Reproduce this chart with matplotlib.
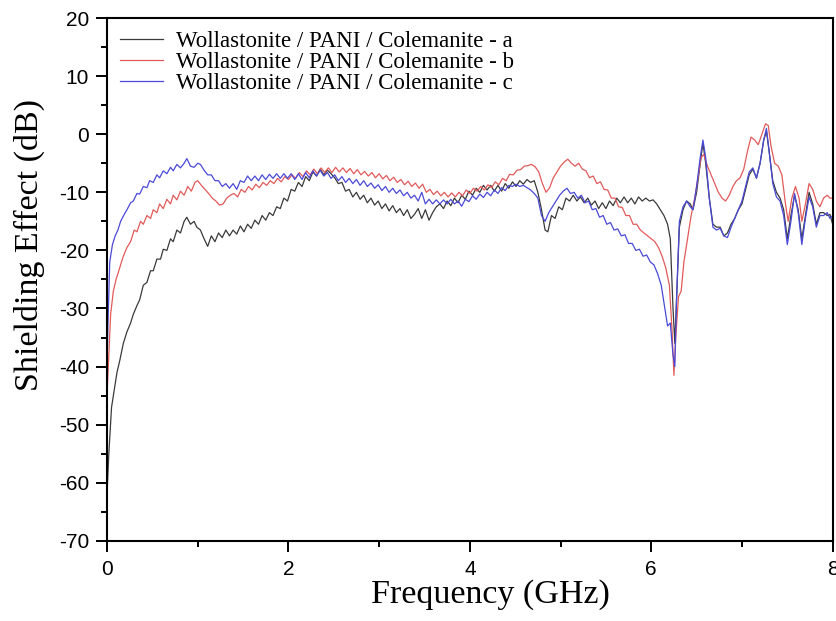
import matplotlib
matplotlib.use('Agg')
import matplotlib.pyplot as plt
from matplotlib.ticker import MultipleLocator

plt.rcParams['axes.unicode_minus'] = False

# sample a
freq_a = [0.0, 0.02, 0.05, 0.08, 0.11, 0.14, 0.18, 0.22, 0.26, 0.29, 0.33, 0.36, 0.40, 0.44, 0.48, 0.51,
          0.55, 0.59, 0.62, 0.66, 0.70, 0.73, 0.77, 0.81, 0.85, 0.88, 0.92, 0.96, 0.99, 1.03, 1.07, 1.11,
          1.15, 1.19, 1.23, 1.27, 1.31, 1.35, 1.39, 1.43, 1.47, 1.51, 1.55, 1.59, 1.63, 1.67, 1.71, 1.75,
          1.79, 1.83, 1.87, 1.91, 1.95, 1.99, 2.03, 2.07, 2.11, 2.15, 2.19, 2.23, 2.27, 2.31, 2.35, 2.39,
          2.43, 2.47, 2.51, 2.55, 2.59, 2.63, 2.67, 2.71, 2.75, 2.79, 2.83, 2.87, 2.91, 2.95, 2.99, 3.03,
          3.07, 3.11, 3.15, 3.19, 3.23, 3.27, 3.31, 3.35, 3.39, 3.43, 3.47, 3.51, 3.55, 3.59, 3.63, 3.67,
          3.71, 3.75, 3.79, 3.83, 3.87, 3.91, 3.95, 3.99, 4.03, 4.07, 4.11, 4.15, 4.19, 4.23, 4.27, 4.31,
          4.35, 4.39, 4.43, 4.47, 4.51, 4.55, 4.59, 4.63, 4.67, 4.71, 4.75, 4.79, 4.83, 4.86, 4.90, 4.94,
          4.98, 5.02, 5.06, 5.10, 5.14, 5.18, 5.22, 5.26, 5.30, 5.34, 5.38, 5.42, 5.46, 5.50, 5.54, 5.58,
          5.62, 5.66, 5.70, 5.74, 5.78, 5.82, 5.86, 5.90, 5.94, 5.98, 6.02, 6.06, 6.10, 6.14, 6.18, 6.21,
          6.24, 6.26, 6.28, 6.31, 6.35, 6.39, 6.43, 6.46, 6.50, 6.54, 6.57, 6.60, 6.64, 6.68, 6.72, 6.76,
          6.80, 6.84, 6.88, 6.92, 6.96, 7.00, 7.04, 7.08, 7.12, 7.16, 7.20, 7.24, 7.27, 7.30, 7.34, 7.38,
          7.42, 7.46, 7.50, 7.54, 7.58, 7.62, 7.66, 7.70, 7.74, 7.78, 7.82, 7.86, 7.90, 7.94, 7.97, 8.0]
se_a = [-62, -55, -47, -44, -41, -39, -36, -34, -32.5, -31, -29.5, -28.5, -26, -25.5, -23.5, -23.5,
        -21.5, -21.5, -19.8, -20, -18, -18.5, -16.5, -17, -15, -14.3, -15.5, -15, -16, -16.5, -18, -19.3,
        -17.5, -18.5, -17, -17.8, -16.5, -17.5, -16.5, -17.2, -15.8, -16.8, -15.5, -16.2, -14.8, -15.5, -14, -14.8,
        -13.5, -14, -12.5, -12.8, -11, -11.5, -9.5, -9.8, -8.3, -9, -7.3, -8, -6.5, -7.2, -6, -7,
        -6.2, -6.8, -7.5, -8.5, -8.3, -9.8, -9.5, -10.8, -10, -11.2, -10.5, -11.8, -11, -12.2, -11.5, -12.8,
        -12, -13.2, -12.3, -13.5, -12.8, -14, -13, -14.5, -13.8, -12.8, -14.5, -13, -14.8, -13.5, -12.5, -12,
        -12.8, -11.5, -12.3, -11, -11.8, -10.5, -11.2, -9.8, -10.5, -9.3, -10, -8.8, -9.6, -8.8, -9.8, -8.8,
        -9.8, -8.5, -9.3, -8.2, -9, -8, -8.6, -7.8, -8.3, -8, -10, -13, -16.5, -16.8, -14, -14.5,
        -12.5, -13, -11, -11.5, -10.5, -11.5, -10.8, -11.8, -11, -12.2, -11.5, -12.8, -11.8, -12.8, -11.5, -12.3,
        -11, -11.8, -10.8, -11.8, -11, -12, -10.8, -11.5, -11, -11.5, -11.3, -12, -13, -14, -15.5, -18,
        -30, -36, -28, -16, -13, -11.5, -12, -13, -10, -5, -1.5, -5, -11, -15.5, -16, -16,
        -17.5, -17, -15.5, -14.5, -13, -12, -9.5, -7, -6, -7.5, -5, -1, 0.5, -3, -8, -10,
        -11, -13, -18, -14, -10.5, -13, -18, -14, -10, -12, -15.5, -13.5, -13.5, -14, -13.8, -15.5]

# sample b
freq_b = [0.0, 0.02, 0.04, 0.07, 0.10, 0.14, 0.18, 0.22, 0.26, 0.30, 0.33, 0.37, 0.40, 0.44, 0.48, 0.51,
          0.55, 0.58, 0.62, 0.66, 0.70, 0.73, 0.77, 0.81, 0.85, 0.89, 0.93, 0.97, 1.00, 1.04, 1.08, 1.12,
          1.16, 1.20, 1.24, 1.28, 1.32, 1.36, 1.40, 1.44, 1.48, 1.52, 1.56, 1.60, 1.64, 1.68, 1.72, 1.76,
          1.80, 1.84, 1.88, 1.92, 1.96, 2.00, 2.04, 2.08, 2.12, 2.16, 2.20, 2.24, 2.28, 2.32, 2.36, 2.40,
          2.44, 2.48, 2.52, 2.56, 2.60, 2.64, 2.68, 2.72, 2.76, 2.80, 2.84, 2.88, 2.92, 2.96, 3.00, 3.04,
          3.08, 3.12, 3.16, 3.20, 3.24, 3.28, 3.32, 3.36, 3.40, 3.44, 3.48, 3.52, 3.56, 3.60, 3.64, 3.68,
          3.72, 3.76, 3.80, 3.84, 3.88, 3.92, 3.96, 4.00, 4.04, 4.08, 4.12, 4.16, 4.20, 4.24, 4.28, 4.32,
          4.36, 4.40, 4.44, 4.48, 4.52, 4.56, 4.60, 4.64, 4.68, 4.72, 4.76, 4.80, 4.84, 4.88, 4.92, 4.96,
          5.00, 5.04, 5.08, 5.12, 5.16, 5.20, 5.24, 5.28, 5.32, 5.36, 5.40, 5.44, 5.48, 5.52, 5.56, 5.60,
          5.64, 5.68, 5.72, 5.76, 5.80, 5.84, 5.88, 5.92, 5.96, 6.00, 6.04, 6.08, 6.12, 6.16, 6.20, 6.23,
          6.25, 6.27, 6.30, 6.33, 6.36, 6.40, 6.44, 6.48, 6.52, 6.55, 6.58, 6.62, 6.66, 6.70, 6.74, 6.78,
          6.82, 6.86, 6.90, 6.94, 6.98, 7.02, 7.06, 7.10, 7.14, 7.18, 7.22, 7.26, 7.29, 7.32, 7.36, 7.40,
          7.44, 7.48, 7.51, 7.55, 7.59, 7.63, 7.66, 7.70, 7.74, 7.78, 7.82, 7.86, 7.90, 7.94, 7.97, 8.0]
se_b = [-45, -38, -31, -27, -25, -23, -21, -19.5, -18.5, -16.5, -16.8, -15, -15.5, -14, -14.5, -13,
        -13.5, -12, -12.8, -11.2, -12, -10.5, -11.3, -9.8, -10.5, -9, -9.8, -8.3, -8, -8.8, -9.5, -10.2,
        -11, -11.5, -12.2, -12, -11, -10.5, -10.2, -10.8, -9.5, -10, -9, -9.6, -8.6, -9.2, -8.3, -8.8,
        -8, -8.5, -7.6, -8.2, -7.3, -7.8, -7, -7.6, -6.6, -7.3, -6.3, -7, -6, -6.8, -5.8, -6.6,
        -5.8, -6.6, -5.7, -6.5, -5.8, -6.6, -5.9, -6.8, -6.1, -7, -6.4, -7.2, -6.6, -7.5, -6.8, -7.7,
        -7.1, -8, -7.4, -8.3, -7.8, -8.7, -8.1, -9, -8.4, -9.3, -8.6, -10, -9.5, -10.4, -9.8, -10.6,
        -10, -10.8, -10.1, -10.8, -10, -10.6, -9.6, -10.2, -9.3, -9.8, -9, -9.6, -8.7, -9.2, -8.2, -8.7,
        -7.6, -8, -6.9, -7, -6.2, -6.1, -5.5, -5.4, -5.2, -5.6, -6.5, -8.5, -10, -9.2, -7.5, -6.5,
        -5.5, -4.8, -4.3, -5, -5.5, -5, -6, -6.3, -7.5, -7.2, -8.5, -8.2, -9.5, -9.6, -11, -11,
        -12.5, -12.6, -14, -14, -15.5, -15.5, -16.5, -17, -17.5, -18, -18.5, -19.5, -21, -23, -26, -34,
        -41.5, -35, -28, -27, -22, -18, -14, -11, -7, -4, -3.5, -5.5, -7, -8.5, -10, -11,
        -11.5, -10.5, -9, -8, -7.5, -6, -3, -0.5, -1, -1.8, 0, 1.8, 1.5, -2, -5, -5.5,
        -7, -12, -15, -11, -9, -11, -15, -12, -8.5, -9.5, -11.5, -12.5, -11, -10.5, -11, -11]

# sample c
freq_c = [0.0, 0.01, 0.03, 0.06, 0.09, 0.12, 0.15, 0.19, 0.22, 0.26, 0.29, 0.33, 0.36, 0.40, 0.44, 0.47,
          0.51, 0.55, 0.58, 0.62, 0.66, 0.70, 0.73, 0.77, 0.81, 0.85, 0.88, 0.92, 0.96, 1.00, 1.03, 1.07,
          1.11, 1.15, 1.19, 1.23, 1.27, 1.31, 1.35, 1.39, 1.43, 1.47, 1.51, 1.55, 1.59, 1.63, 1.67, 1.71,
          1.75, 1.79, 1.83, 1.87, 1.91, 1.95, 1.99, 2.03, 2.07, 2.11, 2.15, 2.19, 2.23, 2.27, 2.31, 2.35,
          2.39, 2.43, 2.47, 2.51, 2.55, 2.59, 2.63, 2.67, 2.71, 2.75, 2.79, 2.83, 2.87, 2.91, 2.95, 2.99,
          3.03, 3.07, 3.11, 3.15, 3.19, 3.23, 3.27, 3.31, 3.35, 3.39, 3.43, 3.47, 3.51, 3.55, 3.59, 3.63,
          3.67, 3.71, 3.75, 3.79, 3.83, 3.87, 3.91, 3.95, 3.99, 4.03, 4.07, 4.11, 4.15, 4.19, 4.23, 4.27,
          4.31, 4.35, 4.39, 4.43, 4.47, 4.51, 4.55, 4.59, 4.63, 4.67, 4.71, 4.75, 4.79, 4.83, 4.87, 4.91,
          4.95, 4.99, 5.03, 5.07, 5.11, 5.15, 5.19, 5.23, 5.27, 5.31, 5.35, 5.39, 5.43, 5.47, 5.51, 5.55,
          5.59, 5.63, 5.67, 5.71, 5.75, 5.79, 5.83, 5.87, 5.91, 5.95, 5.99, 6.03, 6.07, 6.11, 6.15, 6.18,
          6.21, 6.24, 6.26, 6.28, 6.31, 6.35, 6.39, 6.43, 6.46, 6.50, 6.54, 6.57, 6.60, 6.64, 6.68, 6.72,
          6.76, 6.80, 6.84, 6.88, 6.92, 6.96, 7.00, 7.04, 7.08, 7.12, 7.16, 7.20, 7.24, 7.27, 7.30, 7.34,
          7.38, 7.42, 7.46, 7.50, 7.54, 7.58, 7.62, 7.66, 7.70, 7.74, 7.78, 7.82, 7.86, 7.90, 7.94, 7.97, 8.0]
se_c = [-40, -33, -22, -19, -17.5, -16.5, -15, -13.8, -13, -11.8, -11.5, -10.2, -10.3, -9, -9.2, -8,
        -8.3, -7, -7.5, -6.3, -6.8, -5.7, -6.3, -5.2, -5.8, -5, -4.2, -5.5, -5.7, -5, -5.2, -6.2,
        -7, -7, -8, -8, -9, -8.5, -9.3, -8.5, -9.5, -8, -8.3, -7.2, -8, -7.2, -8, -7,
        -7.8, -6.9, -7.6, -6.8, -7.6, -6.8, -7.6, -6.8, -7.8, -6.8, -7.8, -6.6, -7.5, -6.3, -7.2, -6.2,
        -7.2, -6.6, -7.6, -7, -8, -7.3, -8.3, -7.6, -8.5, -7.8, -8.8, -8, -9, -8.4, -9.3, -8.7,
        -9.7, -9, -10, -9.3, -10.2, -9.6, -10.6, -10, -11, -10.5, -11.5, -10, -12, -11.2, -12, -11.3,
        -12, -11.3, -12, -11.2, -12, -11.5, -12.4, -11.2, -11.6, -10.6, -11.2, -10.3, -10.9, -10, -10.6, -9.6,
        -10.2, -9.2, -9.7, -8.8, -9, -8.6, -9, -8.8, -9.2, -9.6, -10.2, -11, -14, -15, -13.5, -12.5,
        -11.5, -10.5, -9.8, -9.3, -10.2, -10, -11, -10.5, -11.8, -11.5, -13, -12.8, -14.3, -14, -15.5, -15.2,
        -16.5, -16.3, -17.5, -17.3, -18.8, -18.8, -20, -19.8, -21, -20.8, -22, -22.5, -24, -26, -30, -33,
        -32.5, -38, -40, -28, -15, -12.5, -11.5, -12.5, -13, -9, -4, -1, -4, -11, -16, -16.5,
        -16.2, -17.5, -17.8, -16, -14.5, -13, -11.5, -9, -6.5, -5.8, -7.6, -5, -1, 1, -3, -8.5,
        -10.8, -11.5, -14, -19, -15, -10.2, -13.5, -19, -14.5, -10.8, -12.5, -16, -14, -14, -13.5, -14.5, -14]

labels = ['Wollastonite / PANI / Colemanite - a',
          'Wollastonite / PANI / Colemanite - b',
          'Wollastonite / PANI / Colemanite - c']
colors = ['#3a3a3a', '#e25a5a', '#4a4ad8']

fig = plt.figure(figsize=(8.36, 6.21), dpi=100)
ax = fig.add_axes([0.128, 0.129, 0.868, 0.842])

ax.plot(freq_a, se_a, color=colors[0], lw=0.9, label=labels[0])
ax.plot(freq_b, se_b, color=colors[1], lw=0.9, label=labels[1])
ax.plot(freq_c, se_c, color=colors[2], lw=0.9, label=labels[2])

ax.set_xlim(0, 8)
ax.set_ylim(-70, 20)
ax.xaxis.set_major_locator(MultipleLocator(2))
ax.xaxis.set_minor_locator(MultipleLocator(1))
ax.yaxis.set_major_locator(MultipleLocator(10))
ax.yaxis.set_minor_locator(MultipleLocator(5))
ax.tick_params(which='both', direction='out', top=False, right=False, width=1.4)
ax.tick_params(which='major', length=8, labelsize=15)
ax.tick_params(which='minor', length=4.5)
ax.tick_params(axis='y', which='major', pad=5)
ax.tick_params(axis='x', which='major', pad=6)
for lab in ax.get_xticklabels() + ax.get_yticklabels():
    lab.set_family('Liberation Sans')
for sp in ax.spines.values():
    sp.set_linewidth(1.5)

ax.set_xlabel('Frequency (GHz)', family='Liberation Serif', fontsize=24.5)
ax.set_ylabel('Shielding Effect (dB)', family='Liberation Serif', fontsize=24.5)
ax.xaxis.set_label_coords(0.529, -0.074)
ax.yaxis.set_label_coords(-0.085, 0.566)

ax.legend(loc='upper left', frameon=False, prop={'family': 'Liberation Serif', 'size': 16.5},
          handlelength=1.9, labelspacing=0.0, borderaxespad=0.2, handletextpad=0.55,
          borderpad=0.35)

fig.savefig('out.png', dpi=100)
